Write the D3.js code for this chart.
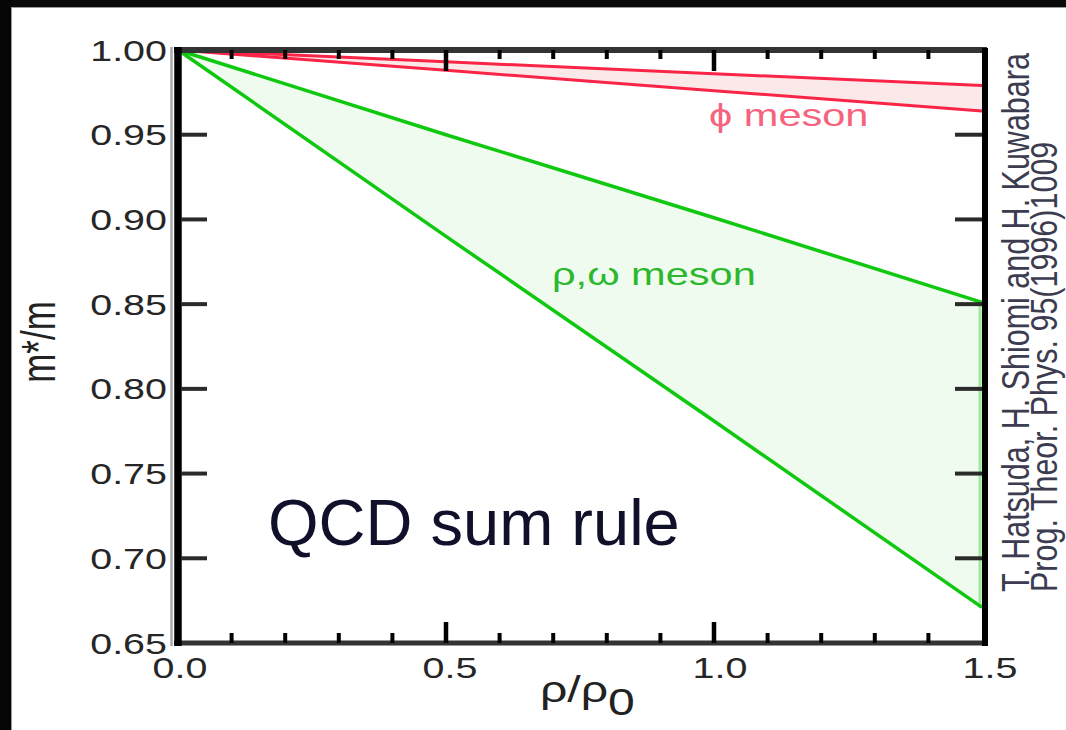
<!DOCTYPE html>
<html>
<head>
<meta charset="utf-8">
<script src="https://cdn.jsdelivr.net/npm/d3@7"></script>
<style>
  html, body { margin: 0; padding: 0; background: #fff; }
  svg { display: block; }
  text { font-family: "Liberation Sans", Arial, sans-serif; }
</style>
</head>
<body>
<svg id="chart" width="1066" height="730"></svg>
<script>
// ---- data ----
const densities = [0, 0.5, 1.0, 1.5];              // rho/rho0
const phiUpper  = [1.000, 0.993, 0.986, 0.979];    // phi meson band, upper edge
const phiLower  = [1.000, 0.988, 0.976, 0.964];    // phi meson band, lower edge
const rhoUpper  = [1.000, 0.950, 0.901, 0.851];    // rho,omega band, upper edge
const rhoLower  = [1.000, 0.890, 0.781, 0.671];    // rho,omega band, lower edge
const yTicks = [1.00, 0.95, 0.90, 0.85, 0.80, 0.75, 0.70, 0.65];
const yTickLabels = ["1.00", "0.95", "0.90", "0.85", "0.80", "0.75", "0.70", "0.65"];
const xMajorTicks = [0.0, 0.5, 1.0, 1.5];
const xTickLabels = ["0.0", "0.5", "1.0", "1.5"];
const xMinorTicks = [0.1, 0.2, 0.3, 0.4, 0.6, 0.7, 0.8, 0.9, 1.1, 1.2, 1.3, 1.4];
const phiLabel = "\u03D5 meson";
const rhoLabel = "\u03C1,\u03C9 meson";
const titleText = "QCD sum rule";
const refLine1 = "T. Hatsuda, H. Shiomi and H. Kuwabara";
const refLine2 = "Prog. Theor. Phys. 95(1996)1009";

// ---- layout ----
const svg = d3.select("#chart");
const x = d3.scaleLinear().domain([0, 1.5]).range([178, 982]);
const y = d3.scaleLinear().domain([0.65, 1.0]).range([643, 50]);
const SX = 1.36; // horizontal stretch of the original raster text

// background and black borders
svg.append("rect").attr("width", 1066).attr("height", 730).attr("fill", "#fff");
svg.append("rect").attr("x", 0).attr("y", 0).attr("width", 1066).attr("height", 7).attr("fill", "#0a0a0a");
svg.append("rect").attr("x", 0).attr("y", 7).attr("width", 1066).attr("height", 1).attr("fill", "#999");
svg.append("rect").attr("x", 0).attr("y", 0).attr("width", 11).attr("height", 730).attr("fill", "#050505");
svg.append("rect").attr("x", 11).attr("y", 7).attr("width", 1).attr("height", 723).attr("fill", "#999");

const band = (up, lo) => d3.area()
  .x((d, i) => x(densities[i]))
  .y0((d, i) => y(lo[i]))
  .y1((d, i) => y(up[i]));
const line = d3.line().x((d, i) => x(densities[i])).y(d => y(d));

const plot = svg.append("g");

// rho, omega band
plot.append("path").datum(densities).attr("d", band(rhoUpper, rhoLower))
  .attr("fill", "#effbef");
plot.append("line")
  .attr("x1", x(1.5) - 2).attr("x2", x(1.5) - 2)
  .attr("y1", y(rhoUpper[3])).attr("y2", y(rhoLower[3]))
  .attr("stroke", "#9fe89f").attr("stroke-width", 3);
[rhoUpper, rhoLower].forEach(s => plot.append("path").datum(s).attr("d", line)
  .attr("fill", "none").attr("stroke", "#10c810").attr("stroke-width", 3.5));

// phi band
plot.append("path").datum(densities).attr("d", band(phiUpper, phiLower))
  .attr("fill", "#fbe9ea");
[phiUpper, phiLower].forEach(s => plot.append("path").datum(s).attr("d", line)
  .attr("fill", "none").attr("stroke", "#fa2447").attr("stroke-width", 3));

// frame
const axisCol = "#2a2a2a";
svg.append("line").attr("x1", 174).attr("x2", 987).attr("y1", y(1.0)).attr("y2", y(1.0))
  .attr("stroke", "#333").attr("stroke-width", 6);
svg.append("line").attr("x1", 174).attr("x2", 987).attr("y1", y(0.65)).attr("y2", y(0.65))
  .attr("stroke", "#333").attr("stroke-width", 5);
svg.append("line").attr("x1", 178).attr("x2", 178).attr("y1", 47).attr("y2", 646)
  .attr("stroke", "#000").attr("stroke-width", 7.5);
svg.append("line").attr("x1", 171.5).attr("x2", 171.5).attr("y1", 47).attr("y2", 646)
  .attr("stroke", "#aaa").attr("stroke-width", 2.5);
svg.append("line").attr("x1", 985).attr("x2", 985).attr("y1", 48).attr("y2", 646)
  .attr("stroke", "#000").attr("stroke-width", 6);

// y ticks (inward, both sides)
const yInner = yTicks.filter(v => v < 0.999 && v > 0.651);
svg.selectAll(".ytl").data(yInner).enter().append("line")
  .attr("x1", 181).attr("x2", 207).attr("y1", d => y(d)).attr("y2", d => y(d))
  .attr("stroke", axisCol).attr("stroke-width", 4);
svg.selectAll(".ytr").data(yInner).enter().append("line")
  .attr("x1", 955).attr("x2", 982).attr("y1", d => y(d)).attr("y2", d => y(d))
  .attr("stroke", axisCol).attr("stroke-width", 4);

// x ticks, top and bottom
const xMaj = xMajorTicks.filter(v => v > 0 && v < 1.5);
svg.selectAll(".xmb").data(xMinorTicks).enter().append("line")
  .attr("x1", d => x(d)).attr("x2", d => x(d)).attr("y1", y(0.65)).attr("y2", y(0.65) - 10)
  .attr("stroke", "#000").attr("stroke-width", 4);
svg.selectAll(".xmt").data(xMinorTicks).enter().append("line")
  .attr("x1", d => x(d)).attr("x2", d => x(d)).attr("y1", y(1.0)).attr("y2", y(1.0) + 9)
  .attr("stroke", "#000").attr("stroke-width", 4);
svg.selectAll(".xMb").data(xMaj).enter().append("line")
  .attr("x1", d => x(d)).attr("x2", d => x(d)).attr("y1", y(0.65)).attr("y2", y(0.65) - 21)
  .attr("stroke", "#000").attr("stroke-width", 4.5);
svg.selectAll(".xMt").data(xMaj).enter().append("line")
  .attr("x1", d => x(d)).attr("x2", d => x(d)).attr("y1", y(1.0)).attr("y2", y(1.0) + 21)
  .attr("stroke", "#000").attr("stroke-width", 4.5);

// y tick labels
svg.selectAll(".ylab").data(yTicks).enter().append("text")
  .attr("transform", (d, i) => `translate(167,${y(d) + 10.5}) scale(${SX},1)`)
  .attr("text-anchor", "end").attr("font-size", 29).attr("fill", "#262626")
  .text((d, i) => yTickLabels[i]);

// x tick labels
svg.selectAll(".xlab").data(xMajorTicks).enter().append("text")
  .attr("transform", (d, i) => `translate(${x(d) + 2 + 4 * d},678) scale(${SX},1)`)
  .attr("text-anchor", "middle").attr("font-size", 29).attr("fill", "#262626")
  .text((d, i) => xTickLabels[i]);

// axis titles
const xt = svg.append("text")
  .attr("transform", `translate(540,702) scale(1.3,1)`)
  .attr("font-size", 37).attr("fill", "#222");
xt.append("tspan").text("\u03C1/\u03C1");
xt.append("tspan").attr("dy", 13).text("0");

svg.append("text")
  .attr("transform", `translate(55,342) rotate(-90) scale(1,1.4)`)
  .attr("text-anchor", "middle").attr("font-size", 35).attr("fill", "#222")
  .text("m*/m");

// series labels
svg.append("text")
  .attr("transform", `translate(709,126) scale(1.34,1)`)
  .attr("font-size", 31).attr("fill", "#f5637e").text(phiLabel);
svg.append("text")
  .attr("transform", `translate(552,285) scale(1.34,1)`)
  .attr("font-size", 31).attr("fill", "#2cb82c").text(rhoLabel);

// title
svg.append("text").attr("x", 268).attr("y", 545)
  .attr("font-size", 65).attr("fill", "#10102a").text(titleText);

// reference (vertical)
svg.append("text")
  .attr("transform", `translate(1029,592) rotate(-90) scale(1,1.28)`)
  .attr("font-size", 30.5).attr("fill", "#3c3c50").text(refLine1);
svg.append("text")
  .attr("transform", `translate(1057,592) rotate(-90) scale(1,1.24)`)
  .attr("font-size", 30.5).attr("fill", "#3c3c50").text(refLine2);
</script>
</body>
</html>
